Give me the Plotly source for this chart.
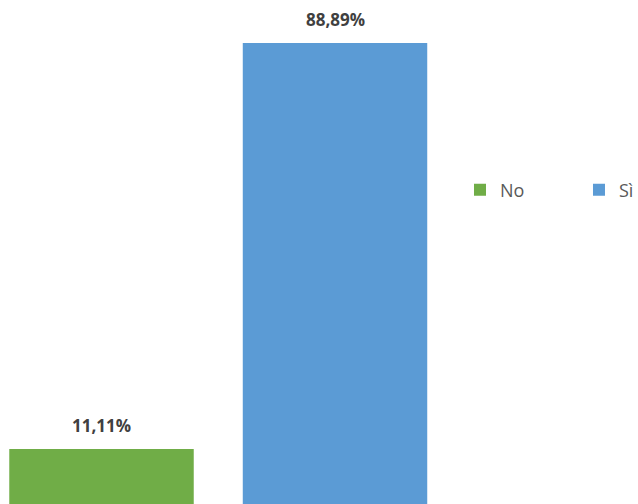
import plotly.graph_objects as go

categories = ["No", "Sì"]
values = [11.11, 88.89]
labels = ["11,11%", "88,89%"]
colors = ["#70AD47", "#5B9BD5"]
legend_ids = ["legend", "legend2"]

fig = go.Figure()
for i, (c, v, lab, col, lg) in enumerate(zip(categories, values, labels, colors, legend_ids)):
    fig.add_trace(go.Bar(
        x=[i], y=[v], name=c, marker=dict(color=col, line=dict(width=0)),
        width=0.79, showlegend=True, hoverinfo="skip", legend=lg,
    ))
    fig.add_annotation(x=i, y=v, text="<b>" + lab + "</b>", showarrow=False,
                       yanchor="bottom", yshift=10,
                       font=dict(family="Open Sans", size=17, color="#404040"))

legend_style = dict(orientation="h", yanchor="middle", xanchor="left", itemwidth=30,
                    font=dict(family="Open Sans", size=18, color="#595959"),
                    bgcolor="rgba(0,0,0,0)", borderwidth=0)

fig.update_layout(
    width=638, height=504,
    margin=dict(l=0, r=0, t=0, b=0, autoexpand=False),
    paper_bgcolor="white", plot_bgcolor="white",
    barmode="overlay",
    xaxis=dict(range=[-0.4347, 2.2976], visible=False, fixedrange=True),
    yaxis=dict(range=[0.575, 97.12], visible=False, fixedrange=True),
    showlegend=True,
    legend=dict(x=0.721, y=0.623, **legend_style),
    legend2=dict(x=0.9075, y=0.623, **legend_style),
)

fig.write_html("out.html", config={"displayModeBar": False},
               post_script="document.body.style.margin='0';")
